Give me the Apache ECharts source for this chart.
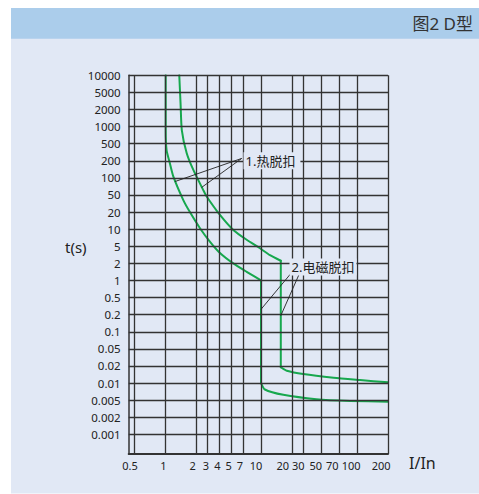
<!DOCTYPE html>
<html><head><meta charset="utf-8">
<script src="https://cdn.jsdelivr.net/npm/echarts@6/dist/echarts.min.js"></script>
<style>html,body{margin:0;padding:0;background:#fff;}#c{width:479px;height:494px;}</style>
</head><body><div id="c"></div>
<script>
// ---------------- data ----------------
const xTickValues = [0.5, 1, 2, 3, 4, 5, 7, 10, 20, 30, 50, 70, 100, 200];
const xTickLabels = ['0.5', '1', '2', '3', '4', '5', '7', '10', '20', '30', '50', '70', '100', '200'];
const yTickValues = [10000, 5000, 2000, 1000, 500, 200, 100, 50, 20, 10, 5, 2, 1, 0.5, 0.2, 0.1, 0.05, 0.02, 0.01, 0.005, 0.002, 0.001];
const yTickLabels = ['10000', '5000', '2000', '1000', '500', '200', '100', '50', '20', '10', '5', '2', '1', '0.5', '0.2', '0.1', '0.05', '0.02', '0.01', '0.005', '0.002', '0.001'];

// lower curve (thermal + instantaneous at 10 In)
const curveA_I = [1, 1, 1.02, 1.1, 1.19, 1.49, 1.73, 2.28, 3.18, 4.05, 5.33, 7.53, 10, 10, 10.9, 16.4, 43, 87, 200];
const curveA_t = [10000, 870, 356, 180, 105, 38, 20, 10.4, 6.0, 3.5, 2.0, 1.42, 1.0, 0.01, 0.0077, 0.0062, 0.0052, 0.0048, 0.0046];
// upper curve
const curveB_I = [1.36, 1.40, 1.44, 1.61, 1.87, 2.56, 2.89, 4.05, 5.33, 7.53, 9.8, 12.2, 15.5, 15.5, 17.7, 29.5, 63, 107, 200];
const curveB_t = [10000, 2780, 870, 300, 138, 61, 46, 17.8, 9.7, 6.5, 4.5, 3.1, 2.3, 0.019, 0.0165, 0.0144, 0.0124, 0.0113, 0.0103];

const titleText = '图2 D型';
const yName = 't(s)';
const xName = 'I/In';
const thermalText = '1.热脱扣';
const magneticText = '2.电磁脱扣';
// annotation anchors (I/In, t)
const thermalAnchor = [7.0, 200];
const thermalFrom = [6.75, 227];
const thermalTo = [[1.23, 86], [2.42, 68]];
const magneticAnchor = [18.6, 1.73];
const magneticLeaders = [[[20.7, 1.49], [10, 0.266]], [[27, 1.49], [15.5, 0.192]]];

// ---------------- layout ----------------
const GRID = { left: 128.7, top: 75.3, width: 259.3, height: 378.7 };
// axis position (px from grid left) of each xTickValues gridline
const X_GRID_U = [6, 37, 67.6, 79, 90.6, 102.3, 114.3, 132.3, 163.6, 175, 193, 210.3, 228.3, 259.3];
// axis position of each x tick label (labels sit slightly left of their lines in the original)
const X_LABEL_U = [1.3, 34.6, 64, 77.3, 88.6, 100, 111.3, 127.3, 154, 169.6, 187, 203.5, 222.5, 252.5];
const Y_MAX_IDX = 22.15;
const FONT = "'Noto Sans', 'Noto Sans CJK SC', sans-serif";
const GREEN = '#17a84e';
const GRIDC = '#333333';
const PANEL = '#e1e8f5';

// piecewise-log scales for the hand-drawn axes
function toU(v) {
  const V = xTickValues, U = X_GRID_U;
  let i = 0;
  while (i < V.length - 2 && v > V[i + 1]) i++;
  return U[i] + (U[i + 1] - U[i]) * Math.log(v / V[i]) / Math.log(V[i + 1] / V[i]);
}
function toIdx(t) {
  const T = yTickValues;
  let i = 0;
  while (i < T.length - 2 && t < T[i + 1]) i++;
  return i + Math.log(T[i] / t) / Math.log(T[i] / T[i + 1]);
}
const pt = p => [toU(p[0]), toIdx(p[1])];

// split a curve into thermal (smooth), instantaneous drop (straight) and tail (smooth)
function curveSeries(I, t) {
  const pts = I.map((v, i) => [toU(v), toIdx(t[i])]);
  let k = I.length - 2;
  while (k > 0 && I[k] !== I[k + 1]) k--;
  const base = {
    type: 'line', z: 3, silent: true, showSymbol: false, symbol: 'none',
    lineStyle: { color: GREEN, width: 2, join: 'round', cap: 'round' }
  };
  return [
    Object.assign({}, base, { smooth: 0.2, data: pts.slice(0, k + 1) }),
    Object.assign({}, base, { data: pts.slice(k, k + 2) }),
    Object.assign({}, base, { smooth: 0.2, data: pts.slice(k + 1) })
  ];
}

const chart = echarts.init(document.getElementById('c'), null, { renderer: 'svg', width: 479, height: 494 });

const gridLines = [];
xTickValues.forEach(v => gridLines.push({ xAxis: toU(v) }));
yTickValues.forEach((v, i) => gridLines.push({ yAxis: i }));

const leaders = [];
thermalTo.forEach(p => leaders.push([{ coord: pt(thermalFrom) }, { coord: pt(p) }]));
magneticLeaders.forEach(l => leaders.push([{ coord: pt(l[0]) }, { coord: pt(l[1]) }]));

const labelStyle = {
  show: true, position: 'right', distance: 0,
  color: '#222', fontSize: 13, fontFamily: FONT,
  backgroundColor: PANEL
};

chart.setOption({
  animation: false,
  textStyle: { fontFamily: FONT },
  graphic: [
    { type: 'rect', z: -10, shape: { x: 11, y: 8, width: 468, height: 485.5 }, style: { fill: PANEL } },
    { type: 'rect', z: -9, shape: { x: 11, y: 8, width: 468, height: 30.7 }, style: { fill: '#abcdeb' } },
    { type: 'text', x: 65, y: 247, style: { text: yName, fontSize: 15, fontFamily: FONT, fill: '#222', align: 'left', verticalAlign: 'middle' } },
    { type: 'text', x: 409, y: 463, style: { text: xName, fontSize: 16, fontFamily: FONT, fill: '#222', align: 'left', verticalAlign: 'middle' } }
  ],
  title: {
    text: titleText, right: 6, top: 15, padding: 0,
    textStyle: { fontSize: 17, fontWeight: 'normal', color: '#333', fontFamily: FONT }
  },
  grid: { left: GRID.left, top: GRID.top, width: GRID.width, height: GRID.height, containLabel: false },
  xAxis: {
    type: 'value', min: 0, max: GRID.width,
    axisLine: { onZero: false, lineStyle: { color: GRIDC, width: 2 } },
    axisTick: { show: false },
    splitLine: { show: false },
    axisLabel: {
      customValues: X_LABEL_U,
      formatter: v => {
        let best = 0;
        X_LABEL_U.forEach((u, i) => { if (Math.abs(u - v) < Math.abs(X_LABEL_U[best] - v)) best = i; });
        return xTickLabels[best];
      },
      margin: 6, fontSize: 11, color: '#222', fontFamily: FONT
    }
  },
  yAxis: {
    type: 'value', inverse: true, min: 0, max: Y_MAX_IDX, interval: 1,
    axisLine: { onZero: false, lineStyle: { color: GRIDC, width: 1.5 } },
    axisTick: { show: false },
    splitLine: { show: false },
    axisLabel: {
      formatter: v => (Number.isInteger(v) && yTickLabels[v] !== undefined) ? yTickLabels[v] : '',
      margin: 8, fontSize: 11.5, color: '#222', fontFamily: FONT
    }
  },
  series: [
    {
      type: 'line', z: 1, silent: true, data: [[0, 0]], showSymbol: false, lineStyle: { width: 0 },
      markLine: {
        silent: true, symbol: ['none', 'none'], label: { show: false },
        lineStyle: { color: GRIDC, width: 1.3, type: 'solid' },
        emphasis: { disabled: true },
        data: gridLines
      }
    },
    ...curveSeries(curveA_I, curveA_t),
    ...curveSeries(curveB_I, curveB_t),
    {
      type: 'line', z: 5, silent: true, data: [[0, 0]], showSymbol: false, lineStyle: { width: 0 },
      markLine: {
        silent: true, symbol: ['none', 'none'], label: { show: false },
        lineStyle: { color: '#222', width: 0.9, type: 'solid' },
        emphasis: { disabled: true },
        data: leaders
      },
      markPoint: {
        silent: true, symbol: 'circle', symbolSize: 1,
        itemStyle: { color: 'rgba(0,0,0,0)' },
        data: [
          { coord: pt(thermalAnchor), label: Object.assign({}, labelStyle, { formatter: thermalText, padding: [2, 5, 2, 2] }) },
          { coord: pt(magneticAnchor), label: Object.assign({}, labelStyle, { formatter: magneticText, padding: [2, 2, 2, 2] }) }
        ]
      }
    }
  ]
});
</script></body></html>
